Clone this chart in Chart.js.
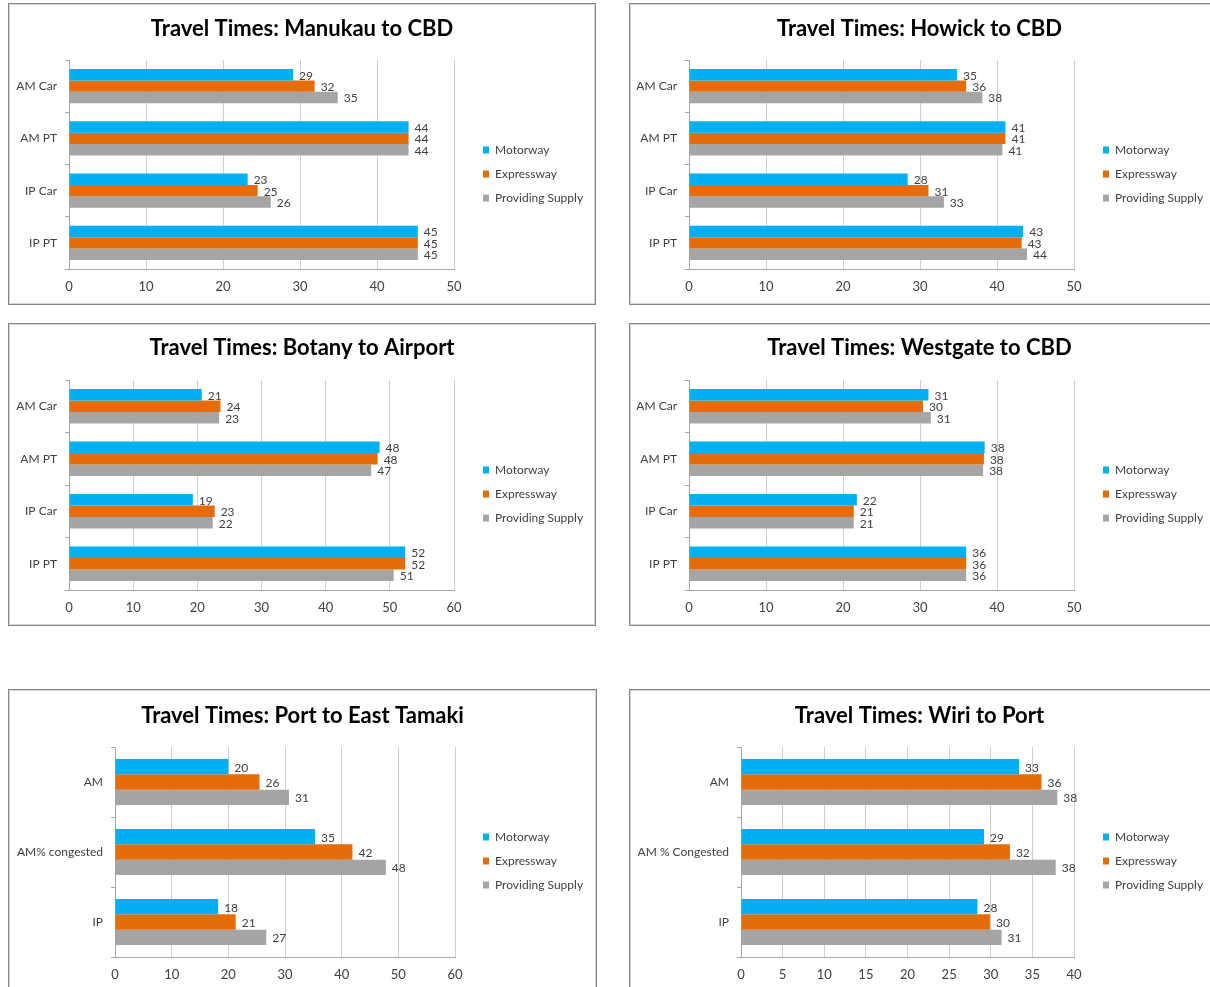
<!DOCTYPE html>
<html><head><meta charset="utf-8">
<script src="https://cdn.jsdelivr.net/npm/chart.js@4.4.1/dist/chart.umd.min.js"></script>
<style>
html,body{margin:0;padding:0;background:#fff;width:1210px;height:987px;overflow:hidden;position:relative}
.box{position:absolute;box-shadow:inset 0 0 0 1px #858585, inset 0 0 0 2px #d6d6d6;}
canvas{position:absolute;}
</style></head><body>
<div class="box" style="left:8px;top:3px;width:588px;height:302px"></div>
<div class="box" style="left:629px;top:3px;width:600px;height:302px"></div>
<div class="box" style="left:8px;top:323px;width:588px;height:303px"></div>
<div class="box" style="left:629px;top:323px;width:600px;height:303px"></div>
<div class="box" style="left:8px;top:689px;width:589px;height:330px"></div>
<div class="box" style="left:629px;top:689px;width:600px;height:330px"></div>
<canvas id="c1"></canvas><canvas id="c2"></canvas><canvas id="c3"></canvas>
<canvas id="c4"></canvas><canvas id="c5"></canvas><canvas id="c6"></canvas>
<script>
// ---- data ----
const seriesNames = ['Motorway', 'Expressway', 'Providing Supply'];
const seriesColors = ['#00B0F0', '#E46C0A', '#A5A5A5'];

const commuteCategories = ['AM Car', 'AM PT', 'IP Car', 'IP PT'];
const manukauMotorway   = [29.1, 44.1, 23.2, 45.3];
const manukauExpressway = [31.9, 44.1, 24.5, 45.3];
const manukauSupply     = [34.9, 44.1, 26.2, 45.3];

const howickMotorway   = [34.8, 41.1, 28.4, 43.4];
const howickExpressway = [36.0, 41.1, 31.1, 43.2];
const howickSupply     = [38.1, 40.7, 33.1, 43.9];

const botanyMotorway   = [20.7, 48.4, 19.3, 52.4];
const botanyExpressway = [23.6, 48.1, 22.7, 52.4];
const botanySupply     = [23.4, 47.1, 22.4, 50.6];

const westgateMotorway   = [31.1, 38.4, 21.8, 36.0];
const westgateExpressway = [30.4, 38.3, 21.4, 36.0];
const westgateSupply     = [31.4, 38.2, 21.4, 36.0];

const portCategories  = ['AM', 'AM% congested', 'IP'];
const portMotorway    = [20.0, 35.3, 18.2];
const portExpressway  = [25.5, 41.9, 21.3];
const portSupply      = [30.7, 47.8, 26.7];

const wiriCategories  = ['AM', 'AM % Congested', 'IP'];
const wiriMotorway    = [33.4, 29.2, 28.4];
const wiriExpressway  = [36.1, 32.3, 29.9];
const wiriSupply      = [38.0, 37.8, 31.3];

const ticks50 = {max: 50, step: 10};
const ticks60 = {max: 60, step: 10};
const ticks40 = {max: 40, step: 5};

// ---- rendering ----
const FONT = 'Lato';
const TEXT = '#404040';
const FS = 12;

const valueLabels = {
  id: 'valueLabels',
  afterDatasetsDraw(chart) {
    const ctx = chart.ctx;
    ctx.save();
    ctx.font = FS + 'px ' + FONT;
    ctx.fillStyle = TEXT;
    ctx.textAlign = 'left';
    ctx.textBaseline = 'middle';
    chart.data.datasets.forEach((ds, i) => {
      chart.getDatasetMeta(i).data.forEach((bar, j) => {
        ctx.fillText(String(Math.round(ds.data[j])), bar.x + 6, bar.y + 1);
      });
    });
    ctx.restore();
  }
};

function makeChart(id, L, title, cats, s1, s2, s3, tk) {
  const cv = document.getElementById(id);
  cv.width = L.w; cv.height = L.h;
  cv.style.left = L.x + 'px'; cv.style.top = L.y + 'px';
  cv.style.width = L.w + 'px'; cv.style.height = L.h + 'px';
  const lp = 12;
  const legendLeft = L.legendX - lp;
  const legendW = L.w - legendLeft;
  const gapW = legendLeft - L.plotR;
  const titleLH = 22 * 1.2;
  const data = [s1, s2, s3];
  const fixLegend = {
    id: 'fixLegend',
    beforeLayout(chart) {
      const lg = chart.legend;
      if (lg && !lg._fixedW) {
        const f = lg.fit;
        lg.fit = function () { f.call(this); this.width = legendW; };
        lg._fixedW = true;
      }
    }
  };
  new Chart(cv, {
    type: 'bar',
    data: {
      labels: cats,
      datasets: seriesNames.map((n, i) => ({
        label: n, data: data[i], backgroundColor: seriesColors[i],
        borderWidth: 0, categoryPercentage: 0.655, barPercentage: 1.0
      }))
    },
    options: {
      indexAxis: 'y',
      responsive: false,
      animation: false,
      events: [],
      layout: {padding: 0},
      plugins: {
        title: {display: true, text: title, color: '#000',
          font: {family: FONT, size: 22, weight: 'bold'},
          padding: {top: L.titleY - titleLH / 2, bottom: L.plotT - L.titleY - titleLH / 2}},
        legend: {display: true, position: 'right', align: 'center',
          labels: {boxWidth: 6, boxHeight: 7, padding: lp, color: TEXT,
            font: {family: FONT, size: FS}}},
        tooltip: {enabled: false}
      },
      scales: {
        x: {type: 'linear', min: 0, max: tk.max,
          ticks: {stepSize: tk.step, color: TEXT, padding: 10, font: {family: FONT, size: 13}},
          grid: {color: '#cfcfcf', lineWidth: 1, drawTicks: false},
          border: {display: true, color: '#a6a6a6'},
          afterFit: s => { s.height = L.h - L.plotB; }
        },
        y: {type: 'category',
          ticks: {color: TEXT, padding: 8, font: {family: FONT, size: FS}},
          grid: {offset: true, drawOnChartArea: false, drawTicks: true, tickLength: 4, color: '#a6a6a6'},
          border: {display: true, color: '#a6a6a6'},
          afterFit: s => { s.width = L.plotL; }
        },
        gap: {type: 'linear', axis: 'y', position: 'right', display: true,
          ticks: {display: false}, grid: {display: false}, border: {display: false},
          afterFit: s => { s.width = gapW; }
        }
      }
    },
    plugins: [valueLabels, fixLegend]
  });
}

const left1  = {x: 8,   y: 3,   w: 588, h: 342, titleY: 26, plotT: 57, plotB: 266, plotL: 61,  plotR: 446, legendX: 475};
const right1 = {x: 629, y: 3,   w: 581, h: 342, titleY: 26, plotT: 57, plotB: 266, plotL: 60,  plotR: 445, legendX: 474};
const left2  = {x: 8,   y: 323, w: 588, h: 342, titleY: 25, plotT: 57, plotB: 267, plotL: 61,  plotR: 446, legendX: 475};
const right2 = {x: 629, y: 323, w: 581, h: 342, titleY: 25, plotT: 57, plotB: 267, plotL: 60,  plotR: 445, legendX: 474};
const left3  = {x: 8,   y: 689, w: 589, h: 344, titleY: 27, plotT: 58, plotB: 268, plotL: 107, plotR: 447, legendX: 475};
const right3 = {x: 629, y: 689, w: 581, h: 344, titleY: 27, plotT: 58, plotB: 268, plotL: 112, plotR: 445, legendX: 474};

makeChart('c1', left1,  'Travel Times: Manukau to CBD', commuteCategories, manukauMotorway, manukauExpressway, manukauSupply, ticks50);
makeChart('c2', right1, 'Travel Times: Howick to CBD', commuteCategories, howickMotorway, howickExpressway, howickSupply, ticks50);
makeChart('c3', left2,  'Travel Times: Botany to Airport', commuteCategories, botanyMotorway, botanyExpressway, botanySupply, ticks60);
makeChart('c4', right2, 'Travel Times: Westgate to CBD', commuteCategories, westgateMotorway, westgateExpressway, westgateSupply, ticks50);
makeChart('c5', left3,  'Travel Times: Port to East Tamaki', portCategories, portMotorway, portExpressway, portSupply, ticks60);
makeChart('c6', right3, 'Travel Times: Wiri to Port', wiriCategories, wiriMotorway, wiriExpressway, wiriSupply, ticks40);
</script>
</body></html>
